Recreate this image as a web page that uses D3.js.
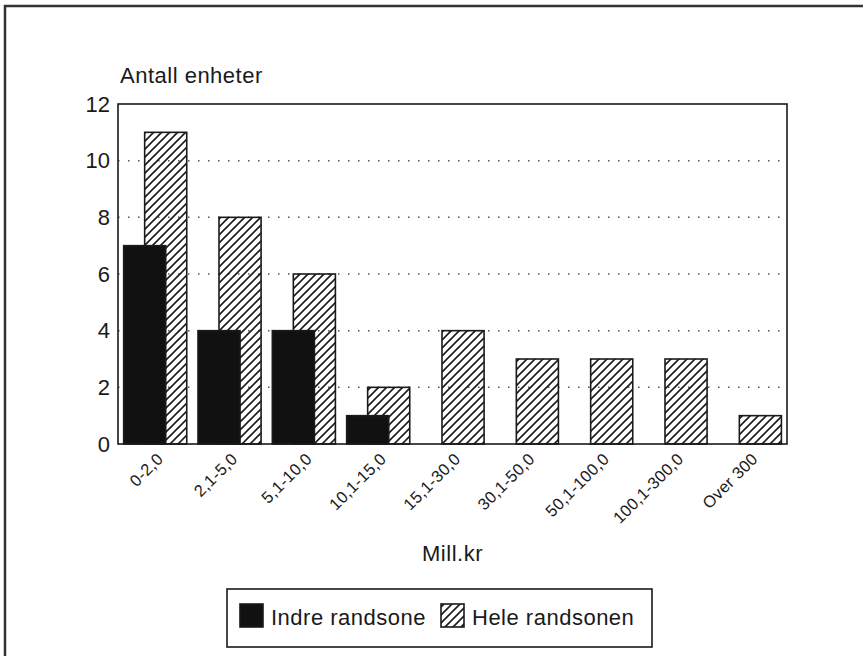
<!DOCTYPE html>
<html lang="no">
<head>
<meta charset="UTF-8">
<title>Antall enheter etter Mill.kr</title>
<script src="https://d3js.org/d3.v7.min.js"></script>
<style>
  body, html { margin: 0; padding: 0; background: #fff; }
  svg { display: block; font-family: "Liberation Sans", Arial, sans-serif; }
</style>
</head>
<body>
<div id="chart"></div>
<script>
// data
var categories = ["0-2,0", "2,1-5,0", "5,1-10,0", "10,1-15,0", "15,1-30,0",
                  "30,1-50,0", "50,1-100,0", "100,1-300,0", "Over 300"];
var indre = [7, 4, 4, 1, 0, 0, 0, 0, 0];
var hele  = [11, 8, 6, 2, 4, 3, 3, 3, 1];
var yTicks = [0, 2, 4, 6, 8, 10, 12];
var seriesNames = ["Indre randsone", "Hele randsonen"];

var W = 863, H = 656;
var margin = {top: 104, right: 76, bottom: 212, left: 118};
var width = W - margin.left - margin.right,
    height = H - margin.top - margin.bottom;
var ink = "#1a1a1a";

var svg = d3.select("#chart").append("svg")
    .attr("width", W).attr("height", H);

svg.append("rect").attr("width", W).attr("height", H).attr("fill", "#fff");

// hatch pattern
var defs = svg.append("defs");
defs.append("pattern")
    .attr("id", "hatch")
    .attr("patternUnits", "userSpaceOnUse")
    .attr("width", 8).attr("height", 8)
  .append("path")
    .attr("d", "M-2,2 L2,-2 M0,8 L8,0 M6,10 L10,6")
    .attr("stroke", ink).attr("stroke-width", 1.6);

// outer frame (only left and top visible)
svg.append("path")
    .attr("d", "M5,656 V6 H863")
    .attr("fill", "none").attr("stroke", "#333").attr("stroke-width", 2.5);

var g = svg.append("g")
    .attr("transform", "translate(" + margin.left + "," + margin.top + ")");

var x = d3.scaleBand().domain(categories).range([0, width]).padding(0);
var y = d3.scaleLinear().domain([0, 12]).range([height, 0]);
var barW = x.bandwidth() * 0.566;

// dotted grid lines
g.selectAll(".grid").data(yTicks.filter(d => d > 0 && d < 12))
  .enter().append("line")
    .attr("x1", 0).attr("x2", width)
    .attr("y1", d => y(d)).attr("y2", d => y(d))
    .attr("stroke", "#555").attr("stroke-width", 1.5)
    .attr("stroke-dasharray", "1.5,8.5");

// y tick labels
var yAxis = g.append("g").call(d3.axisLeft(y).tickValues(yTicks).tickSize(0).tickPadding(8));
yAxis.select(".domain").remove();
yAxis.selectAll("text")
    .attr("font-size", 22).attr("fill", ink)
    .style("font-family", "'Liberation Sans', Arial, sans-serif");

// hatched bars (behind)
g.selectAll(".hele").data(hele).enter().append("rect")
    .attr("x", (d, i) => x(categories[i]) + x.bandwidth() / 2 - 10.5)
    .attr("y", d => y(d))
    .attr("width", barW)
    .attr("height", d => height - y(d))
    .attr("fill", "url(#hatch)")
    .attr("stroke", ink).attr("stroke-width", 1.6);

// solid bars (front)
g.selectAll(".indre").data(indre).enter().append("rect")
    .filter(d => d > 0)
    .attr("x", (d, i) => x(categories[i]) + x.bandwidth() / 2 - 31.5)
    .attr("y", d => y(d))
    .attr("width", barW)
    .attr("height", d => height - y(d))
    .attr("fill", "#111")
    .attr("stroke", ink).attr("stroke-width", 1.6);

// plot frame
g.append("rect")
    .attr("width", width).attr("height", height)
    .attr("fill", "none").attr("stroke", ink).attr("stroke-width", 1.6);

// x tick labels
var xAxis = g.append("g")
    .attr("transform", "translate(0," + height + ")")
    .call(d3.axisBottom(x).tickSize(0).tickPadding(0));
xAxis.select(".domain").remove();
xAxis.selectAll("text")
    .attr("font-size", 16.5).attr("fill", ink)
    .style("font-family", "'Liberation Sans', Arial, sans-serif")
    .style("letter-spacing", "0.3px")
    .attr("text-anchor", "end")
    .attr("y", 0).attr("dy", 0)
    .attr("transform", "translate(9,16) rotate(-45)");

// axis titles
g.append("text")
    .attr("x", 2).attr("y", -21)
    .attr("font-size", 22).attr("fill", ink)
    .style("letter-spacing", "0.5px")
    .text("Antall enheter");

g.append("text")
    .attr("x", width / 2).attr("y", height + 117)
    .attr("text-anchor", "middle")
    .attr("font-size", 22).attr("fill", ink)
    .style("letter-spacing", "0.5px")
    .text("Mill.kr");

// legend
var lg = svg.append("g").attr("transform", "translate(227,589)");
lg.append("rect")
    .attr("width", 425).attr("height", 58)
    .attr("fill", "#fff").attr("stroke", ink).attr("stroke-width", 1.6);

var items = [{x: 13, fill: "#111"}, {x: 214, fill: "url(#hatch)"}];
items.forEach(function(it, i) {
    lg.append("rect")
        .attr("x", it.x).attr("y", 15)
        .attr("width", 23).attr("height", 23)
        .attr("fill", it.fill)
        .attr("stroke", ink).attr("stroke-width", 1.6);
    lg.append("text")
        .attr("x", it.x + 31).attr("y", 36)
        .attr("font-size", 22).attr("fill", ink)
        .style("letter-spacing", "0.5px")
        .text(seriesNames[i]);
});
</script>
</body>
</html>
